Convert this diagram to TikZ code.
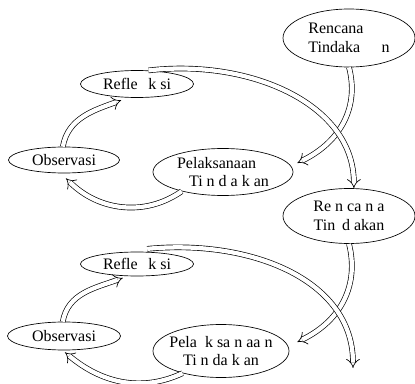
\documentclass[tikz,border=0pt]{standalone}
\usepackage{fontspec}
\setmainfont{Liberation Serif}
\usetikzlibrary{shapes.geometric,arrows.meta,calc}
\tikzset{>={Implies}}
\tikzset{
  stage/.style={ellipse, draw, line width=.5pt, inner xsep=-10pt, inner ysep=-4pt,
    font=\fontsize{12}{13.8}\selectfont},
  cyc/.style={double, double distance=3.2pt, line width=.5pt, ->},
}

\begin{document}
\begin{tikzpicture}[x=0.75pt,y=0.75pt]
  \useasboundingbox (0,0) rectangle (415,383);
  \node[stage, minimum width=99pt, minimum height=43.5pt, align=left] (plan1) at (349,345) {Rencana\\Tindaka\hspace{16pt}n};
  \node[stage, minimum width=84.75pt, minimum height=20.25pt] (refl1) at (137,299) {Refle\hspace{8pt}k si};
  \node[stage, minimum width=83.25pt, minimum height=19.5pt] (obs1) at (64,223) {Observasi};
  \node[stage, minimum width=105pt, minimum height=35.25pt, align=left] (act1) at (223,211) {Pelaksanaan\\\hspace*{9pt}Ti n d a k an};
  \node[stage, minimum width=99pt, minimum height=41.25pt, align=center] (plan2) at (349,167) {Re n ca n a\\Tin\hspace{5pt}d akan};
  \node[stage, minimum width=84.75pt, minimum height=18pt] (refl2) at (137,119) {Refle\hspace{8pt}k si};
  \node[stage, minimum width=84.75pt, minimum height=21pt] (obs2) at (64,47) {Observasi};
  \node[stage, minimum width=102pt, minimum height=39.75pt, align=center] (act2) at (221,32) {Pela\hspace{6pt}k sa n aa n\\Ti n da k an};
  \coordinate (next) at (353,15);

  \draw[cyc] (plan1.south) .. controls +(10,-38) and +(45,22) .. ($(act1.east)+(4,9)$);
  \draw[cyc] (refl1.50) .. controls +(100,12) and +(0,85) .. (plan2.80);
  \draw[cyc] (obs1.95) to[out=80,in=200] ($(refl1.220)+(0,-3)$);
  \draw[cyc] (act1.205) to[out=215,in=-45] ($(obs1.south)+(2,-5)$);

  \draw[cyc] (plan2.south) .. controls +(10,-40) and +(45,22) .. ($(act2.east)+(8,9)$);
  \draw[cyc] ($(refl2.50)+(0,3)$) .. controls +(100,10) and +(0,90) .. (next);
  \draw[cyc] (obs2.95) to[out=80,in=200] ($(refl2.220)+(0,-2)$);
  \draw[cyc] (act2.210) to[out=205,in=-40] ($(obs2.south)+(1,-2)$);
\end{tikzpicture}
\end{document}
